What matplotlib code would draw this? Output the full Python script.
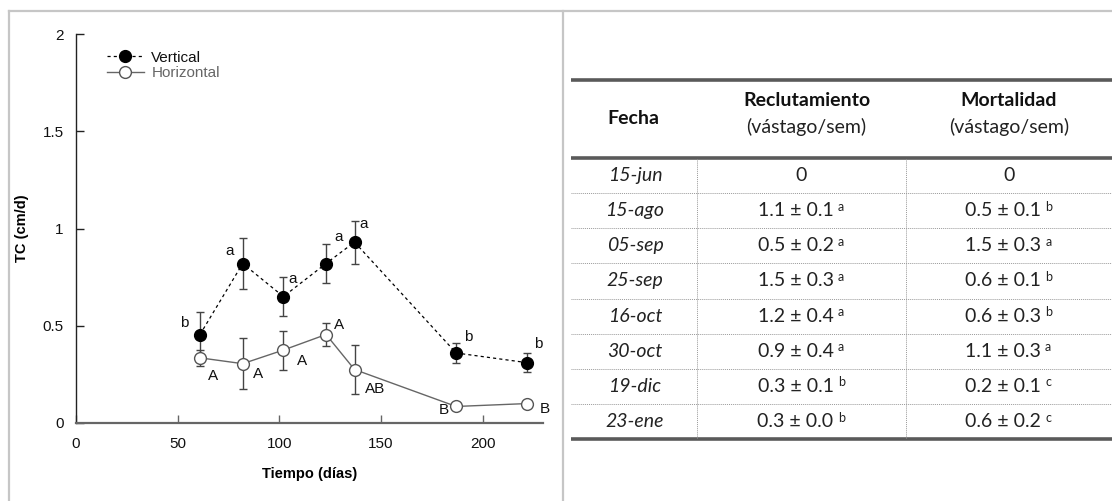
import matplotlib
matplotlib.use("Agg")
import matplotlib.pyplot as plt
from matplotlib.ticker import FormatStrFormatter

# tasa de crecimiento por orientacion
dias = [61, 82, 102, 123, 137, 187, 222]
tc_vertical = [0.455, 0.82, 0.65, 0.82, 0.93, 0.36, 0.31]
err_vertical = [0.115, 0.13, 0.10, 0.10, 0.11, 0.05, 0.05]
tc_horizontal = [0.335, 0.305, 0.375, 0.455, 0.275, 0.085, 0.10]
err_horizontal = [0.04, 0.13, 0.10, 0.06, 0.125, 0.0, 0.0]
letras_vertical = ['b', 'a', 'a', 'a', 'a', 'b', 'b']
letras_horizontal = ['A', 'A', 'A', 'A', 'AB', 'B', 'B']

# tabla de reclutamiento y mortalidad
fechas = ['15-jun', '15-ago', '05-sep', '25-sep', '16-oct', '30-oct', '19-dic', '23-ene']
reclutamiento = ['0', '1.1 ± 0.1', '0.5 ± 0.2', '1.5 ± 0.3', '1.2 ± 0.4', '0.9 ± 0.4', '0.3 ± 0.1', '0.3 ± 0.0']
letra_recl = ['', 'a', 'a', 'a', 'a', 'a', 'b', 'b']
mortalidad = ['0', '0.5 ± 0.1', '1.5 ± 0.3', '0.6 ± 0.1', '0.6 ± 0.3', '1.1 ± 0.3', '0.2 ± 0.1', '0.6 ± 0.2']
letra_mort = ['', 'b', 'a', 'b', 'b', 'a', 'c', 'c']

# desplazamiento de las letras respecto a cada punto (px)
off_vert = [(-16, 12), (-13, 13), (9, 18), (13, 27), (9, 18), (12, 16), (11, 19)]
off_hor = [(13, -18), (15, -10), (19, -11), (13, 10), (21, -19), (-12, -4), (17, -5)]

plt.rcParams['font.family'] = ['Liberation Sans', 'DejaVu Sans']

W, H = 1112, 501
fig = plt.figure(figsize=(W / 100, H / 100), dpi=100)

# capa de fondo en pixeles: marcos y tabla
bg = fig.add_axes([0, 0, 1, 1])
bg.set_xlim(0, W)
bg.set_ylim(H, 0)
bg.axis('off')

marco = '#c6c6c6'
bg.plot([9, W], [11, 11], color=marco, lw=1.6)
bg.plot([9, 9], [11, H], color=marco, lw=1.6)
bg.plot([563, 563], [11, H], color=marco, lw=1.6)

# ---- grafico ----
px = 2.033
ax = fig.add_axes([76 / W, (H - 423) / H, (543 - 76) / W, (423 - 34) / H])
ax.patch.set_alpha(0)
ax.set_xlim(0, (543 - 76) / px)
ax.set_ylim(0, 2)

ax.errorbar(dias, tc_vertical, yerr=err_vertical, fmt='none', ecolor='#444444',
            elinewidth=1, capsize=3, capthick=1, zorder=2)
ax.errorbar(dias, tc_horizontal, yerr=err_horizontal, fmt='none', ecolor='#444444',
            elinewidth=1, capsize=3, capthick=1, zorder=2)
lv, = ax.plot(dias, tc_vertical, color='black', lw=0.9, ls=(0, (2.5, 2.5)),
              marker='o', ms=8.5, mfc='black', mec='black', zorder=3, label='Vertical')
lh, = ax.plot(dias, tc_horizontal, color='#666666', lw=1, marker='o', ms=8.5,
              mfc='white', mec='#555555', mew=1, zorder=3, label='Horizontal')

for x, y, t, (dx, dy) in zip(dias, tc_vertical, letras_vertical, off_vert):
    ax.annotate(t, (x, y), xytext=(dx * 0.72, dy * 0.72), textcoords='offset points',
                ha='center', va='center', fontsize=11, color='#111111')
for x, y, t, (dx, dy) in zip(dias, tc_horizontal, letras_horizontal, off_hor):
    ax.annotate(t, (x, y), xytext=(dx * 0.72, dy * 0.72), textcoords='offset points',
                ha='center', va='center', fontsize=11, color='#111111')

ax.spines['top'].set_visible(False)
ax.spines['right'].set_visible(False)
ax.spines['left'].set_color('#222222')
ax.spines['left'].set_linewidth(1)
ax.spines['bottom'].set_color('#666666')
ax.spines['bottom'].set_linewidth(1.6)

ax.set_xticks([0, 50, 100, 150, 200])
ax.set_yticks([0, 0.5, 1, 1.5, 2])
ax.yaxis.set_major_formatter(FormatStrFormatter('%g'))
ax.tick_params(axis='y', direction='in', length=6, width=1, color='#222222',
               labelsize=11, pad=9, labelcolor='#111111')
ax.tick_params(axis='x', direction='in', length=6, width=1, color='#666666',
               labelsize=11, pad=10, labelcolor='#111111')

ax.set_xlabel('Tiempo (días)', fontsize=10.5, fontweight='bold')
ax.set_ylabel('TC (cm/d)', fontsize=10.5, fontweight='bold')
ax.xaxis.set_label_coords(0.5, -(467 - 423) / (423 - 34))
ax.yaxis.set_label_coords(-(76 - 29) / (543 - 76), 0.5)

leg = ax.legend(handles=[lv, lh], loc='center left',
                bbox_to_anchor=(107 / W, 1 - 65.5 / H), bbox_transform=fig.transFigure,
                frameon=False, fontsize=11, handlelength=2.4, handletextpad=0.5,
                labelspacing=0.1, borderpad=0, borderaxespad=0)
leg.get_texts()[0].set_color('#111111')
leg.get_texts()[1].set_color('#666666')

# ---- tabla ----
tfont = ['Lato', 'DejaVu Sans']
x0, x1 = 571, W
c1, c2 = 697, 906
y_top, y_head, y_bot = 80, 158, 439
fila = (y_bot - y_head) / len(fechas)
cen_fecha = (x0 + c1) / 2
cen_recl = (c1 + c2) / 2
cen_mort = (c2 + x1) / 2

for y in (y_top, y_head, y_bot):
    bg.plot([x0, x1], [y, y], color='#5a5a5a', lw=2.6, solid_capstyle='butt')
for i in range(1, len(fechas)):
    y = y_head + i * fila
    bg.plot([x0, x1], [y, y], color='#9a9a9a', lw=0.7, ls=(0, (1, 1)))
for x in (c1, c2):
    bg.plot([x, x], [y_head + 1, y_bot - 1], color='#9a9a9a', lw=0.7, ls=(0, (1, 1)))

bg.text(cen_fecha - 1, 118, 'Fecha', ha='center', va='center', fontsize=14,
        family=tfont, fontweight='bold', color='#111111')
for cx, titulo in ((cen_recl + 5, 'Reclutamiento'), (cen_mort, 'Mortalidad')):
    bg.text(cx, 100, titulo, ha='center', va='center', fontsize=14,
            family=tfont, fontweight='bold', color='#111111')
    bg.text(cx, 127, '(vástago/sem)', ha='center', va='center', fontsize=14,
            family=tfont, fontweight='normal', color='#222222')

for i, f in enumerate(fechas):
    yc = y_head + (i + 0.5) * fila
    bg.text(cen_fecha + 1, yc, f, ha='center', va='center', fontsize=14,
            family=tfont, style='italic', fontweight='normal', color='#222222')
    for cx, val, sup in ((cen_recl, reclutamiento[i], letra_recl[i]),
                         (cen_mort, mortalidad[i], letra_mort[i])):
        shift = 6 if sup else 0
        t = bg.text(cx - shift, yc, val, ha='center', va='center', fontsize=14,
                    family=tfont, fontweight='normal', color='#222222')
        if sup:
            bg.annotate(sup, xy=(1, 1), xycoords=t, xytext=(3, 1),
                        textcoords='offset points', ha='left', va='top',
                        fontsize=9, family=tfont, fontweight='normal', color='#222222')

fig.savefig('out.png', dpi=100)
